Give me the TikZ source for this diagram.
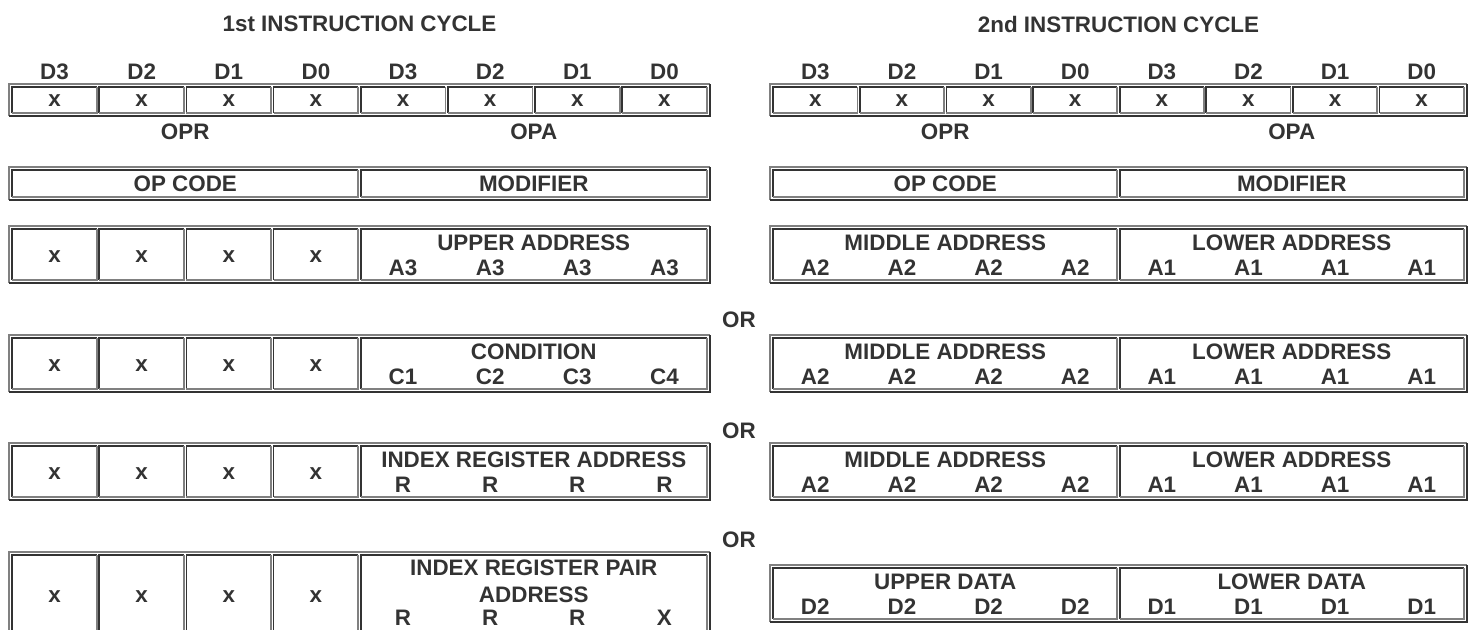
\documentclass[tikz,border=0pt]{standalone}
\usepackage{fontspec}
\setmainfont{Liberation Sans Bold}
\definecolor{ink}{HTML}{333333}
\definecolor{edge}{HTML}{808080}
% sunken cell of a bit table: left, right, top, bottom (px)
\newcommand{\bitcell}[4]{%
  \draw[celldark] (#1+1.2,#4-1.2) |- (#2-1.2,#3+1.2);
  \draw[celllite] (#1+1.2,#4-1.2) -| (#2-1.2,#3+1.2);}
% raised frame round a bit table: left, right, top, bottom (px)
\newcommand{\bitframe}[4]{%
  \draw[framelite] (#1,#4) |- (#2,#3);
  \draw[framedark] (#1,#4) -| (#2,#3);}
\begin{document}
\begin{tikzpicture}[x=0.5pt, y=-0.5pt,
    font=\fontsize{11.2}{13}\selectfont, text=ink,
    framelite/.style={draw=edge, line width=1.1pt},
    framedark/.style={draw=ink, line width=1.1pt},
    celllite/.style={draw=edge, line width=0.9pt},
    celldark/.style={draw=ink, line width=0.9pt},
    lbl/.style={inner sep=0pt}]
  % one unit = one pixel of the 1469 x 630 sheet, y runs down
  \useasboundingbox (0,0) rectangle (1469,630);
  \clip (0,0) rectangle (1469,630);
  % titles
  \node[lbl] (t1) at (359.5,24) {1st INSTRUCTION CYCLE};
  \node[lbl] (t2) at (1118.5,24) {2nd INSTRUCTION CYCLE};
  % bits, OPR/OPA and OP CODE/MODIFIER rows of both cycles
  \foreach \s/\x/\w in {l/11/87.125, r/772/86.625} {
    \bitframe{\x-2}{\x+8*\w+2}{84}{116}
    \foreach \k/\d in {0/D3,1/D2,2/D1,3/D0,4/D3,5/D2,6/D1,7/D0} {
      \bitcell{\x+\k*\w}{\x+\k*\w+\w}{86}{114}
      \node[lbl] (\s-h\k) at (\x+\k*\w+0.5*\w,72) {\d};
      \node[lbl] (\s-b\k) at (\x+\k*\w+0.5*\w,101) {x};
    }
    \node[lbl] (\s-opr) at (\x+2*\w,132) {OPR};
    \node[lbl] (\s-opa) at (\x+6*\w,132) {OPA};
    \bitframe{\x-2}{\x+8*\w+2}{167}{200}
    \bitcell{\x}{\x+4*\w}{169}{198}
    \bitcell{\x+4*\w}{\x+8*\w}{169}{198}
    \node[lbl] (\s-opc) at (\x+2*\w,184) {OP CODE};
    \node[lbl] (\s-mod) at (\x+6*\w,184) {MODIFIER};
  }
  % 1st cycle: x x x x | field with four sub-bits
  \foreach \n/\y/\lab/\sa/\sb/\sc/\sd in {ua/226/UPPER ADDRESS/A3/A3/A3/A3,
      cn/335/CONDITION/C1/C2/C3/C4, ir/443/INDEX REGISTER ADDRESS/R/R/R/R} {
    \bitframe{9}{710}{\y}{\y+57}
    \foreach \k in {0,...,3} {
      \bitcell{11+\k*87.125}{98.125+\k*87.125}{\y+2}{\y+55}
      \node[lbl] (\n-x\k) at (54.56+\k*87.125,\y+31) {x};
    }
    \bitcell{359.5}{708}{\y+2}{\y+55}
    \node[lbl] (\n) at (533.75,\y+17) {\lab};
    \node[lbl] (\n-s4) at (403.06,\y+42) {\sa};
    \node[lbl] (\n-s5) at (490.19,\y+42) {\sb};
    \node[lbl] (\n-s6) at (577.31,\y+42) {\sc};
    \node[lbl] (\n-s7) at (664.44,\y+42) {\sd};
  }
  % 1st cycle, last row (runs off the sheet)
  \bitframe{9}{710}{552}{634}
  \foreach \k in {0,...,3} {
    \bitcell{11+\k*87.125}{98.125+\k*87.125}{554}{632}
    \node[lbl] (rp-x\k) at (54.56+\k*87.125,597) {x};
  }
  \bitcell{359.5}{708}{554}{632}
  \node[lbl] (rp1) at (533.75,568) {INDEX REGISTER PAIR};
  \node[lbl] (rp2) at (533.75,595) {ADDRESS};
  \foreach \k/\t in {4/R,5/R,6/R,7/X}
    \node[lbl] (rp-s\k) at (54.56+\k*87.125,618) {\t};
  % 2nd cycle: middle / lower address, three times
  \foreach \n/\y in {ma/226, mb/335, mc/443} {
    \bitframe{770}{1467}{\y}{\y+57}
    \bitcell{772}{1118.5}{\y+2}{\y+55}
    \bitcell{1118.5}{1465}{\y+2}{\y+55}
    \node[lbl] (\n-mid) at (945.25,\y+17) {MIDDLE ADDRESS};
    \node[lbl] (\n-low) at (1291.75,\y+17) {LOWER ADDRESS};
    \foreach \k in {0,...,3} {
      \node[lbl] (\n-a\k) at (815.31+\k*86.625,\y+42) {A2};
      \node[lbl] (\n-b\k) at (1161.81+\k*86.625,\y+42) {A1};
    }
  }
  % 2nd cycle: upper / lower data
  \bitframe{770}{1467}{565}{622}
  \bitcell{772}{1118.5}{567}{620}
  \bitcell{1118.5}{1465}{567}{620}
  \node[lbl] (ud) at (945.25,582) {UPPER DATA};
  \node[lbl] (ld) at (1291.75,582) {LOWER DATA};
  \foreach \k in {0,...,3} {
    \node[lbl] (ud-\k) at (815.31+\k*86.625,607) {D2};
    \node[lbl] (ld-\k) at (1161.81+\k*86.625,607) {D1};
  }
  % alternatives
  \node[lbl] (or1) at (739,320) {OR};
  \node[lbl] (or2) at (739,431) {OR};
  \node[lbl] (or3) at (739,540) {OR};
\end{tikzpicture}
\end{document}
